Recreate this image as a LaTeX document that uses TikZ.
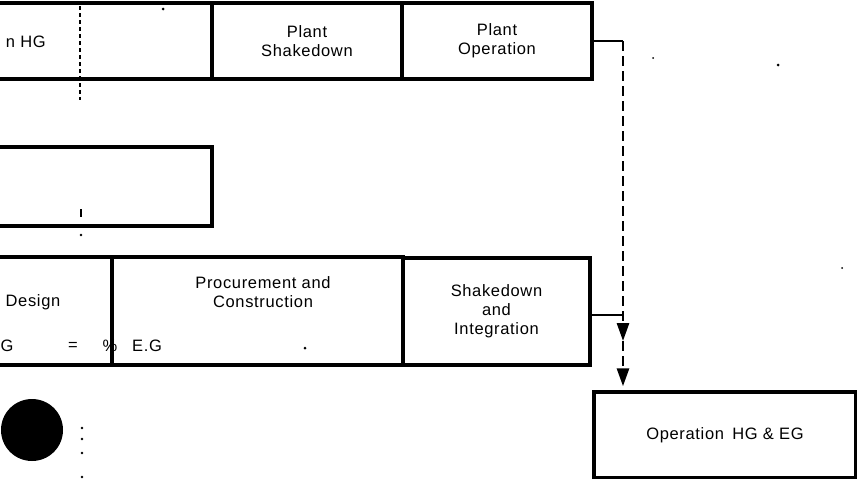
\documentclass[tikz,border=0pt]{standalone}
\usepackage{fontspec}
\setmainfont{Liberation Sans}[LetterSpace=4]
\usetikzlibrary{arrows.meta}
\begin{document}
\begin{tikzpicture}[x=1pt,y=-1pt,
  txt/.style={font=\fontsize{16.5}{19}\selectfont},
  box/.style={draw,line width=3.4pt,rectangle,inner sep=0pt,align=center,txt},
  lbl/.style={inner sep=0pt,align=center,txt},
  link/.style={line width=2.6pt},
  dlink/.style={line width=2.8pt,dash pattern=on 10pt off 5pt},
  tip/.style={-{Triangle[length=18pt,width=12pt]}},
  guide/.style={line width=1.6pt,dash pattern=on 4pt off 3pt},
  speck/.style={fill=black,draw=none}]
\useasboundingbox (0,0) rectangle (857,479);
\clip (0,0) rectangle (857,479);
% top row
\node[box,minimum width=232,minimum height=76] (hg) at (96,41) {};
\node[box,minimum width=190,minimum height=76] (ps) at (307,41) {Plant\\Shakedown};
\node[box,minimum width=190,minimum height=76] (po) at (497,41) {Plant\\Operation};
\node[lbl,anchor=east] (hgt) at (46,42) {n HG};
% middle box
\node[box,minimum width=232,minimum height=79] (mid) at (96,186.5) {};
% bottom row
\node[box,minimum width=132,minimum height=108] (des) at (46,311) {};
\node[box,minimum width=291,minimum height=108] (pc) at (257.5,311) {};
\node[box,minimum width=187,minimum height=107] (si) at (496.5,311.5) {Shakedown\\and\\Integration};
\node[lbl] (dest) at (33,302) {Design};
\node[lbl] (pct) at (263,292) {Procurement and\\Construction};
\node[lbl,anchor=west] (g1) at (0.5,346) {G};
\node[lbl] (g2) at (73,346) {=};
\node[lbl] (g3) at (110,346) {\%};
\node[lbl] (g4) at (147,346) {E.G};
% operation box
\node[box,minimum width=262,minimum height=86] (op) at (725,435) {Operation\enspace HG \& EG};
% connectors
\coordinate (cx) at (623,0);
\draw[link] (po.east) -- (po.east -| cx) coordinate (j1);
\draw[link] ([yshift=-3.5pt]si.east) -- ([yshift=-3.5pt]si.east -| cx) coordinate (j2);
\coordinate (a1) at ([yshift=-26pt]j2);
\draw[dlink,tip] (j1) -- (a1);
\draw[dlink,tip,shorten >=4pt] (a1) -- (op.north -| cx);
% guide line
\coordinate (v1) at (80,6);
\coordinate (v2) at (80,100);
\draw[guide] (v1) -- (v2);
\coordinate (t1) at (81,209);
\coordinate (t2) at (81,217);
\draw[line width=1.5pt] (t1) -- (t2);
\fill[speck] (81,235) circle[radius=1.3];
\foreach \yy in {428,439,453,477} \fill[speck] (82,\yy) circle[radius=1.3];
% black disc
\fill (32,430) circle[radius=31];
% specks
\fill[speck] (163,9) circle[radius=1.5];
\fill[speck] (653,58) circle[radius=1];
\fill[speck] (778,65) circle[radius=1.5];
\fill[speck] (305,348) circle[radius=1.5];
\fill[speck] (842,268) circle[radius=1];
\end{tikzpicture}
\end{document}
